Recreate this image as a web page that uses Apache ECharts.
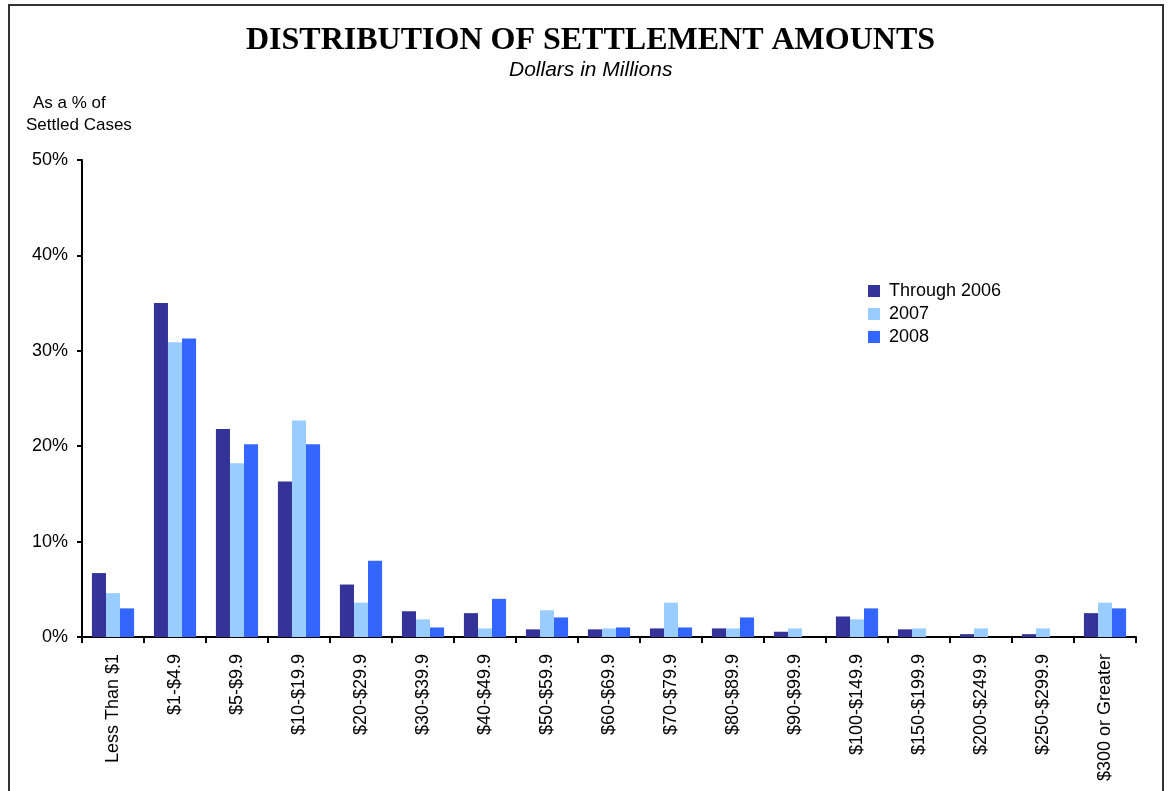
<!DOCTYPE html>
<html>
<head>
<meta charset="utf-8">
<script src="https://cdn.jsdelivr.net/npm/echarts@6/dist/echarts.min.js"></script>
<style>
  html, body { margin: 0; padding: 0; background: #fff; }
  #main { width: 1169px; height: 791px; }
</style>
</head>
<body>
<div id="main"></div>
<script>
var categories = ['Less Than $1', '$1-$4.9', '$5-$9.9', '$10-$19.9', '$20-$29.9', '$30-$39.9',
  '$40-$49.9', '$50-$59.9', '$60-$69.9', '$70-$79.9', '$80-$89.9', '$90-$99.9',
  '$100-$149.9', '$150-$199.9', '$200-$249.9', '$250-$299.9', '$300 or Greater'];

// % of settled cases
var through2006 = [6.7, 35.0, 21.8, 16.3, 5.5, 2.7, 2.5, 0.8, 0.8, 0.9, 0.9, 0.55, 2.15, 0.8, 0.3, 0.3, 2.5];
var year2007    = [4.6, 30.9, 18.2, 22.7, 3.6, 1.85, 0.9, 2.8, 0.9, 3.6, 0.9, 0.9, 1.85, 0.9, 0.9, 0.9, 3.6];
var year2008    = [3.0, 31.3, 20.2, 20.2, 8.0, 1.0, 4.0, 2.05, 1.0, 1.0, 2.05, 0, 3.0, 0, 0, 0, 3.0];

var chart = echarts.init(document.getElementById('main'), null, { renderer: 'canvas' });

var option = {
  backgroundColor: '#fff',
  animation: false,
  title: [{
    text: 'DISTRIBUTION OF SETTLEMENT AMOUNTS',
    left: 241,
    top: 20,
    textStyle: { fontFamily: 'Liberation Serif', fontWeight: 'bold', fontSize: 32, color: '#000' }
  }, {
    text: 'Dollars in Millions',
    left: 504,
    top: 55,
    textStyle: { fontFamily: 'Liberation Sans', fontStyle: 'italic', fontWeight: 'normal', fontSize: 21, color: '#000' }
  }],
  graphic: [{
    type: 'rect',
    shape: { x: 9, y: 5, width: 1154, height: 800 },
    style: { fill: 'none', stroke: '#333', lineWidth: 2 },
    silent: true
  }, {
    type: 'text',
    left: 33, top: 95,
    style: { text: 'As a % of', font: '17px "Liberation Sans"', fill: '#000' }
  }, {
    type: 'text',
    left: 26, top: 117,
    style: { text: 'Settled Cases', font: '17px "Liberation Sans"', fill: '#000' }
  }],
  legend: {
    orient: 'vertical',
    left: 868,
    top: 282,
    padding: 0,
    itemWidth: 12,
    itemHeight: 12,
    itemGap: 5,
    icon: 'rect',
    textStyle: { fontFamily: 'Liberation Sans', fontSize: 18, color: '#000', padding: [0, 0, 0, 4] },
    data: ['Through 2006', '2007', '2008']
  },
  grid: { left: 82, right: 33, top: 160, bottom: 154, containLabel: false },
  xAxis: {
    type: 'category',
    data: categories,
    axisLine: { lineStyle: { color: '#000', width: 2 } },
    axisTick: { show: true, alignWithLabel: false, length: 6, lineStyle: { color: '#000', width: 2 } },
    axisLabel: {
      rotate: 90,
      interval: 0,
      margin: 17,
      fontFamily: 'Liberation Sans',
      fontSize: 18,
      color: '#000'
    }
  },
  yAxis: {
    type: 'value',
    min: 0,
    max: 50,
    interval: 10,
    splitLine: { show: false },
    axisLine: { show: true, lineStyle: { color: '#000', width: 2 } },
    axisTick: { show: true, length: 5, lineStyle: { color: '#000', width: 2 } },
    axisLabel: {
      formatter: '{value}%',
      margin: 14,
      fontFamily: 'Liberation Sans',
      fontSize: 18,
      color: '#000'
    }
  },
  series: [{
    name: 'Through 2006',
    type: 'bar',
    data: through2006,
    barGap: '0%',
    barCategoryGap: '32%',
    itemStyle: { color: '#333399' }
  }, {
    name: '2007',
    type: 'bar',
    data: year2007,
    itemStyle: { color: '#99CCFF' }
  }, {
    name: '2008',
    type: 'bar',
    data: year2008,
    itemStyle: { color: '#3366FF' }
  }]
};

chart.setOption(option);
</script>
</body>
</html>
